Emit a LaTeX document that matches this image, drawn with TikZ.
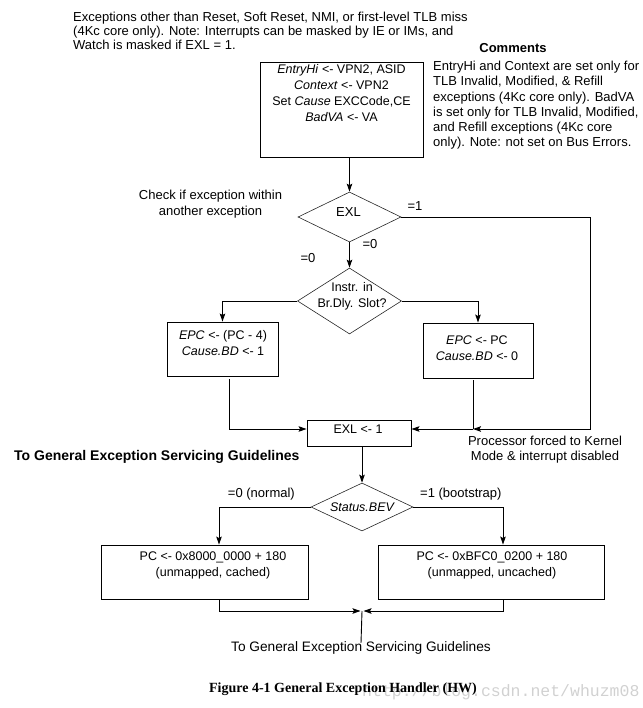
\documentclass[tikz,border=0pt]{standalone}
\usepackage{fontspec}
\setmainfont{Liberation Sans}
\newfontfamily\capfont{Liberation Serif}
\newfontfamily\wmfont{Liberation Mono}
\usetikzlibrary{shapes.geometric,arrows.meta,calc}
\tikzset{
  box/.style={draw, line width=0.9pt, inner sep=0pt},
  dec/.style={draw=black!85, line width=0.6pt, diamond, aspect=2, inner sep=0pt},
  txt/.style={inner sep=0pt, font=\fontsize{13}{14}\selectfont},
  btxt/.style={inner sep=0pt, align=center, font=\fontsize{12.5}{16}\selectfont},
  conn/.style={line width=0.9pt},
  arr/.style={conn, -{Stealth[length=8pt,width=5.5pt,inset=1.5pt]}},
}
\begin{document}
\begin{tikzpicture}[x=1pt,y=-1pt]
\useasboundingbox (0,0) rectangle (642,708);

% watermark (behind caption)
\node[inner sep=0pt, anchor=base west, text=black!18, font=\wmfont\fontsize{16.5}{18}\selectfont] (wm) at (362,696) {http://blog.csdn.net/whuzm08};

% top note and comments
\node[txt, anchor=north west, align=left] (note) at (73,11.5)
  {Exceptions other than Reset, Soft Reset, NMI, or first-level TLB miss\\(4Kc core only). Note: Interrupts can be masked by IE or IMs, and\\Watch is masked if EXL = 1.};
\node[txt, font=\fontsize{13}{14}\selectfont\bfseries, anchor=base] (cmt) at (513,52.5) {Comments};
\node[txt, anchor=north west, align=left, font=\fontsize{13}{15.2}\selectfont] (cmtx) at (433,61)
  {EntryHi and Context are set only for\\TLB Invalid, Modified, \& Refill\\exceptions (4Kc core only). BadVA\\is set only for TLB Invalid, Modified,\\and Refill exceptions (4Kc core\\only). Note: not set on Bus Errors.};

% first box
\node[box, minimum width=163pt, minimum height=95pt, anchor=north west] (b1) at (260,62) {};
\node[btxt, anchor=north] (b1t) at (341.5,64.5)
  {\textit{EntryHi} <- VPN2, ASID\\\textit{Context} <- VPN2\\Set \textit{Cause} EXCCode,CE\\\textit{BadVA} <- VA};

% EXL decision
\node[dec, minimum width=103pt, minimum height=50pt] (exl) at (349.5,217) {};
\node[btxt, font=\fontsize{13}{16}\selectfont] (exlt) at (348.5,212.5) {EXL};
\node[txt, align=center, font=\fontsize{13}{16}\selectfont, anchor=north] (chk) at (210.5,189.5)
  {Check if exception within\\another exception};
\node[txt] (l1) at (415,206) {=1};
\node[txt] (l0a) at (370,244) {=0};
\node[txt] (l0b) at (308,258) {=0};

% branch delay decision
\node[dec, minimum width=104pt, minimum height=66pt] (ins) at (349.5,301) {};
\node[btxt] (inst) at (352,296) {Instr. in\\Br.Dly. Slot?};

% EPC boxes
\node[box, minimum width=111pt, minimum height=54pt] (b2) at (222.5,349) {};
\node[btxt] (b2t) at (223,343) {\textit{EPC} <- (PC - 4)\\\textit{Cause.BD} <- 1};
\node[box, minimum width=110pt, minimum height=55pt] (b3) at (478,350.5) {};
\node[btxt] (b3t) at (477,348.5) {\textit{EPC} <- PC\\\textit{Cause.BD} <- 0};

% EXL <- 1
\node[box, minimum width=104pt, minimum height=26pt] (b4) at (359,433) {};
\node[btxt, font=\fontsize{12.5}{16}\selectfont] (b4t) at (358,429.5) {EXL <- 1};
\node[txt, font=\fontsize{14}{16}\selectfont\bfseries, anchor=west] (tog1) at (14,456.5) {To General Exception Servicing Guidelines};
\node[txt, align=center, font=\fontsize{13}{15}\selectfont] (proc) at (545,450)
  {Processor forced to Kernel\\Mode \& interrupt disabled};

% Status.BEV decision
\node[dec, minimum width=102pt, minimum height=48pt, font=\fontsize{12.5}{14}\selectfont\itshape] (bev) at (362,507) {Status.BEV};
\node[txt, anchor=east] (ln) at (295,494) {=0 (normal)};
\node[txt, anchor=west] (lb) at (420,494) {=1 (bootstrap)};

% PC boxes
\node[box, minimum width=207pt, minimum height=54pt] (b5) at (204.5,572) {};
\node[btxt] (b5t) at (213,565) {PC <- 0x8000\_0000 + 180\\(unmapped, cached)};
\node[box, minimum width=226pt, minimum height=54pt] (b6) at (491,572) {};
\node[btxt] (b6t) at (492,565) {PC <- 0xBFC0\_0200 + 180\\(unmapped, uncached)};

\node[txt, anchor=base, font=\fontsize{13.7}{15}\selectfont] (fin) at (361,651) {To General Exception Servicing Guidelines};
\node[inner sep=0pt, font=\capfont\fontsize{14}{16}\selectfont\bfseries] (cap) at (343,689) {Figure 4-1 General Exception Handler (HW)};

% junction coordinates
\coordinate (jl) at (229,429);
\coordinate (jr) at (473,429);
\coordinate (rc) at (590,429);
\coordinate (bl) at (219,611);
\coordinate (br) at (503,611);
\coordinate (bm) at (362,611);

% connectors
\draw[arr] (b1.south -| exl.north) -- (exl.north);
\draw[arr] (exl.south) -- (ins.north);
\draw[arr] (ins.west) -| (b2.north);
\draw[arr] (ins.east) -| (b3.north);
\draw[arr, shorten <=3pt] (b2.south -| jl) -- (jl) -- (jl -| b4.west);
\draw[conn, shorten <=2pt] (b3.south -| jr) -- (jr);
\draw[arr] (exl.east) -| (rc) -- (jr);
\draw[arr] (jr) -- (jr -| b4.east);
\draw[arr] (b4.south -| bev.north) -- (bev.north);
\draw[arr] (bev.west) -| (b5.north -| bl);
\draw[arr] (bev.east) -| (b6.north -| br);
\draw[arr] (b5.south -| bl) -- (bl) -- ([xshift=-1.5pt]bm);
\draw[arr] (b6.south -| br) -- (br) -- ([xshift=1.5pt]bm);
\draw[conn] (bm) -- ([yshift=-2pt]fin.north);
\end{tikzpicture}
\end{document}
